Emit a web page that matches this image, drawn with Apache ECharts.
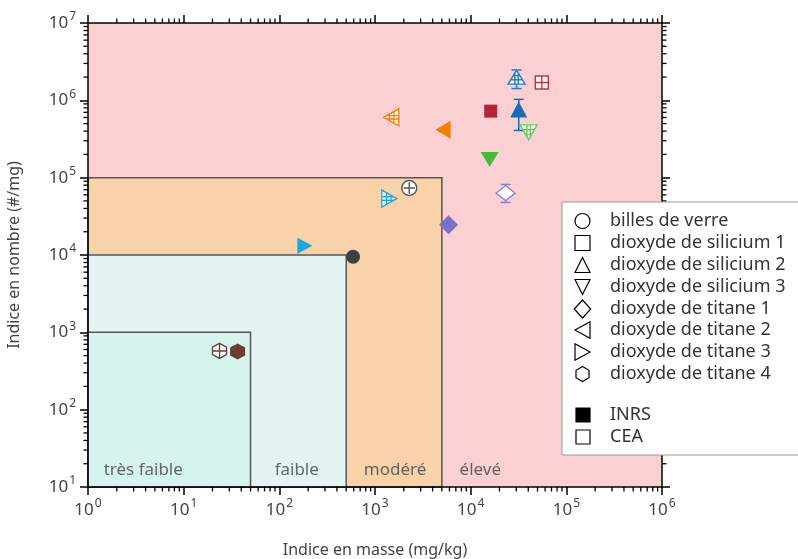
<!DOCTYPE html>
<html><head><meta charset="utf-8">
<script src="https://cdn.jsdelivr.net/npm/echarts@6/dist/echarts.min.js"></script>
<style>html,body{margin:0;padding:0;background:#fff}#c{width:798px;height:559px}</style>
</head><body><div id="c"></div><script>
// ---- data ----
const materials = ['billes de verre','dioxyde de silicium 1','dioxyde de silicium 2','dioxyde de silicium 3','dioxyde de titane 1','dioxyde de titane 2','dioxyde de titane 3','dioxyde de titane 4'];
const inrsX = [590, 16200, 31800, 15800, 5870, 5150, 185, 36.6];
const inrsY = [9500, 725000, 760000, 172000, 24600, 418000, 13200, 565];
const ceaX  = [2280, 55400, 30200, 40400, 23200, 1480, 1410, 23.7];
const ceaY  = [73500, 1700000, 1990000, 385000, 63000, 603000, 53700, 575];
const inrsErrLow  = [null, null, 408000, null, null, null, null, null];
const inrsErrHigh = [null, null, 1030000, null, null, null, null, null];
const ceaErrLow   = [null, null, 1420000, null, 47800, null, null, null];
const ceaErrHigh  = [null, null, 2470000, null, 81700, null, null, null];
const regionNames = ['élevé','modéré','faible','très faible'];
const regionXMax  = [1e6, 5000, 500, 50];
const regionYMax  = [1e7, 1e5, 1e4, 1e3];
const regionLabelX = [12600, 1620, 152, 3.78];
const regionLabelY = [16.5, 16.5, 16.5, 16.5];
const xTickExponents = [0,1,2,3,4,5,6];
const yTickExponents = [1,2,3,4,5,6,7];
const minorMultipliers = [2,3,4,5,6,7,8,9];
const sources = ['INRS','CEA'];

// ---- styles ----
const FONT = '"Noto Sans", sans-serif';
const colorsInrs = ['#404040','#b5213a','#1a6cb5','#44bb3c','#7b70c8','#f08000','#1aa8dc','#6b3c3c'];
const colorsCea  = ['#555555','#c8303f','#2a7cc5','#66cc66','#8a80d0','#f08000','#1aa8dc','#6b3c3c'];
const symFilled = ['circle','rect','triangle','path://M0 0L100 0L50 100Z','diamond','path://M0 50L100 0L100 100Z','path://M100 50L0 0L0 100Z','path://M50 0L93.3 25L93.3 75L50 100L6.7 75L6.7 25Z'];
const symCea = [
  'path://M0 50A50 50 0 1 1 100 50A50 50 0 1 1 0 50ZM50 12L50 88M12 50L88 50',
  'path://M0 0L100 0L100 100L0 100ZM50 0L50 100M0 50L100 50',
  'path://M50 0L100 100L0 100ZM31 38L69 38M16 68L84 68M40 20L40 100M60 20L60 100',
  'path://M0 0L100 0L50 100ZM16 32L84 32M31 62L69 62M40 0L40 80M60 0L60 80',
  'path://M50 0L100 50L50 100L0 50Z',
  'path://M0 50L100 0L100 100ZM38 31L38 69M68 16L68 84M20 40L100 40M20 60L100 60',
  'path://M100 50L0 0L0 100ZM62 31L62 69M32 16L32 84M0 40L80 40M0 60L80 60',
  'path://M50 0L93.3 25L93.3 75L50 100L6.7 75L6.7 25ZM50 0L50 100M6.7 50L93.3 50'
];
const sizeInrs = [14, 13, [17,16], [18,15], [19,19], [15,18], [15,16], [15,16]];
const sizeCea  = [15, 13, [17,14], [17,15], [19,15], [15,17], [15,17], [14,15]];
const regionColors = ['#fbd0d2','#f8d2a8','#e4f4f2','#d6f4ee'];
// legend shapes as unit polygons (null = circle)
const legendPolys = [
  null,
  [[0,0],[1,0],[1,1],[0,1]],
  [[0.5,0],[1,1],[0,1]],
  [[0,0],[1,0],[0.5,1]],
  [[0.5,-0.1],[1.05,0.5],[0.5,1.1],[-0.05,0.5]],
  [[0,0.5],[1,-0.05],[1,1.05]],
  [[1,0.5],[0,-0.05],[0,1.05]],
  [[0.5,0],[0.933,0.25],[0.933,0.75],[0.5,1],[0.067,0.75],[0.067,0.25]]
];
const legendRowY = [221,243,265,287,309,330,352,374,415,437];

const chart = echarts.init(document.getElementById('c'), null, {renderer:'canvas'});

function expLabel(v){ const e = Math.round(Math.log10(v)); return '{b|10}{s|' + e + '}'; }
const labelRich = {
  b:{fontSize:17, color:'#444', fontFamily:FONT},
  s:{fontSize:12, color:'#444', fontFamily:FONT, padding:[0,0,12,1]}
};
const tickStyle = {show:true, inside:false, length:8, lineStyle:{color:'#000', width:1.5}};
const lineStyle = {show:true, lineStyle:{color:'#000', width:1.5}};

const xMinor = [], yMinor = [];
xTickExponents.slice(0,-1).forEach(e => minorMultipliers.forEach(m => xMinor.push([m*Math.pow(10,e), 10])));
yTickExponents.slice(0,-1).forEach(e => minorMultipliers.forEach(m => yMinor.push([1, m*Math.pow(10,e)])));

const series = [];
// regions + labels
series.push({
  type:'scatter', name:'regions', z:1, silent:true, symbolSize:0,
  data: regionNames.map((n,i)=>[regionLabelX[i], regionLabelY[i], n]),
  label:{show:true, position:'inside', formatter:p=>p.data[2], color:'#444', fontSize:17, fontFamily:FONT},
  markArea:{silent:true, data: regionNames.map((n,i)=>[
    {xAxis:1, yAxis:10, itemStyle:{color:regionColors[i], borderColor: i===0?'transparent':'#555', borderWidth: i===0?0:1.5}},
    {xAxis:regionXMax[i], yAxis:regionYMax[i]}
  ])}
});
// minor ticks
function tickRenderer(isX){
  return function(params, api){
    const cs = params.coordSys;
    const p = api.coord([api.value(0), api.value(1)]);
    const L = 4.5, st = {stroke:'#000', lineWidth:1.3};
    if (isX) return {type:'group', children:[
      {type:'line', shape:{x1:p[0], y1:cs.y+cs.height, x2:p[0], y2:cs.y+cs.height+L}, style:st},
      {type:'line', shape:{x1:p[0], y1:cs.y, x2:p[0], y2:cs.y-L}, style:st}
    ]};
    return {type:'group', children:[
      {type:'line', shape:{x1:cs.x, y1:p[1], x2:cs.x-L, y2:p[1]}, style:st},
      {type:'line', shape:{x1:cs.x+cs.width, y1:p[1], x2:cs.x+cs.width+L, y2:p[1]}, style:st}
    ]};
  };
}
series.push({type:'custom', silent:true, clip:false, z:10, data:xMinor, encode:{x:0,y:1}, renderItem:tickRenderer(true)});
series.push({type:'custom', silent:true, clip:false, z:10, data:yMinor, encode:{x:0,y:1}, renderItem:tickRenderer(false)});
// error bars
function errSeries(xs, lo, hi, cols){
  const data = [];
  xs.forEach((x,i)=>{ if (lo[i]!=null) data.push({value:[x, lo[i], hi[i]], color:cols[i]}); });
  return {type:'custom', silent:true, z:3, data, encode:{x:0, y:[1,2]},
    renderItem:function(params, api){
      const x = api.value(0);
      const a = api.coord([x, api.value(1)]), b = api.coord([x, api.value(2)]);
      const c = data[params.dataIndex].color, w = 5;
      const st = {stroke:c, lineWidth:1.5};
      return {type:'group', children:[
        {type:'line', shape:{x1:a[0], y1:a[1], x2:b[0], y2:b[1]}, style:st},
        {type:'line', shape:{x1:a[0]-w, y1:a[1], x2:a[0]+w, y2:a[1]}, style:st},
        {type:'line', shape:{x1:b[0]-w, y1:b[1], x2:b[0]+w, y2:b[1]}, style:st}
      ]};
    }};
}
series.push(errSeries(inrsX, inrsErrLow, inrsErrHigh, colorsInrs));
series.push(errSeries(ceaX, ceaErrLow, ceaErrHigh, colorsCea));
// points
materials.forEach((m,i)=>{
  series.push({type:'scatter', name:m+' INRS', z:5, symbol:symFilled[i], symbolSize:sizeInrs[i],
    data:[[inrsX[i], inrsY[i]]], itemStyle:{color:colorsInrs[i], opacity:1}});
  series.push({type:'scatter', name:m+' CEA', z:5, symbol:symCea[i], symbolSize:sizeCea[i],
    data:[[ceaX[i], ceaY[i]]], itemStyle:{color:'#ffffff', borderColor:colorsCea[i], borderWidth:1.4, opacity:1}});
});

// legend graphic
const SX = 575, SW = 15, LZ = 100, LFONT = '18px ' + FONT;
const legendEls = [{type:'rect', z:LZ, shape:{x:562, y:202, width:240, height:253}, style:{fill:'#fff', stroke:'#999', lineWidth:1}}];
materials.forEach((m,i)=>{
  const cy = legendRowY[i];
  if (legendPolys[i] === null) {
    legendEls.push({type:'circle', z:LZ+1, shape:{cx:SX+SW/2, cy:cy, r:SW/2}, style:{fill:'#fff', stroke:'#000', lineWidth:1.2}});
  } else {
    legendEls.push({type:'polygon', z:LZ+1, shape:{points:legendPolys[i].map(p=>[SX+p[0]*SW, cy-SW/2+p[1]*SW])}, style:{fill:'#fff', stroke:'#000', lineWidth:1.2}});
  }
  legendEls.push({type:'text', z:LZ+1, x:610, y:cy, style:{text:m, font:LFONT, fill:'#333', verticalAlign:'middle', textVerticalAlign:'middle'}});
});
sources.forEach((s,k)=>{
  const y = legendRowY[8+k];
  legendEls.push({type:'rect', z:LZ+1, shape:{x:576, y:y-7, width:14, height:14}, style:{fill: k===0?'#000':'#fff', stroke:'#000', lineWidth:1.2}});
  legendEls.push({type:'text', z:LZ+1, x:610, y:y, style:{text:s, font:LFONT, fill:'#333', verticalAlign:'middle', textVerticalAlign:'middle'}});
});

function logAxis(pos, min, max, showLabel, name){
  const isX = pos==='bottom'||pos==='top';
  return {
    type:'log', logBase:10, min, max, splitNumber:6, position:pos, z:10,
    axisLine:lineStyle, axisTick:tickStyle, splitLine:{show:false}, minorTick:{show:false},
    axisLabel:{show:showLabel, formatter:expLabel, rich:labelRich, margin: isX?11:12},
    name: name||'', nameLocation:'middle', nameGap: isX?55:66,
    nameTextStyle:{color:'#444', fontSize:16, fontFamily:FONT}
  };
}

chart.setOption({
  animation:false,
  backgroundColor:'#fff',
  grid:{left:88, right:136, top:23, bottom:72, containLabel:false, outerBoundsMode:'none'},
  xAxis:[logAxis('bottom',1,1e6,true,'Indice en masse (mg/kg)'), logAxis('top',1,1e6,false)],
  yAxis:[logAxis('left',10,1e7,true,'Indice en nombre (#/mg)'), logAxis('right',10,1e7,false)],
  series,
  graphic:{elements:legendEls}
});
</script></body></html>
